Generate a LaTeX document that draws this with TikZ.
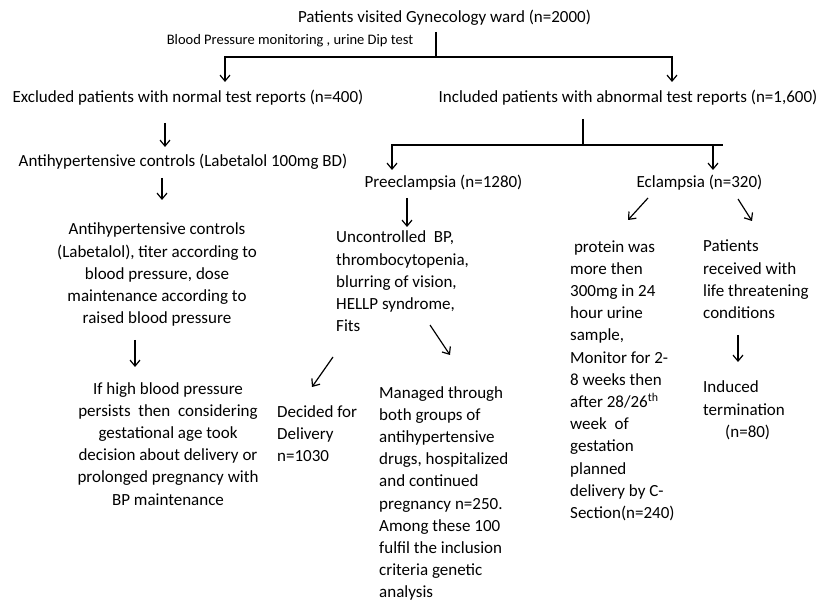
\documentclass[tikz,border=0pt]{standalone}
\usepackage{fontspec}
\setmainfont{Carlito}
\usetikzlibrary{arrows.meta,calc}

\begin{document}
\begin{tikzpicture}[x=1pt, y=-1pt,
    txt/.style={inner sep=0pt, anchor=base, font=\fontsize{17}{22.2}\selectfont},
    txtl/.style={txt, anchor=base west, align=left},
    txtc/.style={txt, align=center},
    small/.style={inner sep=0pt, anchor=base, font=\fontsize{14.5}{16}\selectfont},
    link/.style={line width=1.2pt, black},
    arr/.style={link, -{Straight Barb[length=6pt,width=10pt]}}
]
    \useasboundingbox (0,0) rectangle (822,601);

    % base of a multi-line node is its last line
    \node[txt] (title) at (444.5,23) {Patients visited Gynecology ward (n=2000)};
    \node[small] (bpdip) at (290,45) {Blood Pressure monitoring , urine Dip test};

    \node[txt] (excl) at (188,103) {Excluded patients with normal test reports (n=400)};
    \node[txt] (incl) at (628,103) {Included patients with abnormal test reports (n=1,600)};

    \node[txt] (anti1) at (183,167) {Antihypertensive controls (Labetalol 100mg BD)};
    \node[txtc] (anti2) at (157,323.8) {Antihypertensive controls\\(Labetalol), titer according to\\blood pressure, dose\\maintenance according to\\raised blood pressure};
    \node[txtc] (high) at (168,505) {If high blood pressure\\persists~~then~~considering\\gestational age took\\decision about delivery or\\prolonged pregnancy with\\BP maintenance};

    \node[txt] (pre) at (443.5,188) {Preeclampsia (n=1280)};
    \node[txt] (ecl) at (699.5,188) {Eclampsia (n=320)};

    \node[txtl] (unc) at (336,331.8) {Uncontrolled~~BP,\\thrombocytopenia,\\blurring of vision,\\HELLP syndrome,\\Fits};
    \node[txtl] (dec) at (277,461.4) {Decided for\\Delivery\\n=1030};
    \node[txtl] (man) at (379,597.8) {Managed through\\both groups of\\antihypertensive\\drugs, hospitalized\\and continued\\pregnancy n=250.\\Among these 100\\fulfil the inclusion\\criteria genetic\\analysis};

    \node[txtl] (prot) at (570,518.4) {\ protein was\\more then\\300mg in 24\\hour urine\\sample,\\Monitor for 2-\\8 weeks then\\after 28/26\textsuperscript{th}\\week~~of\\gestation\\planned\\delivery by C-\\Section(n=240)};
    \node[txtl] (pat) at (703,318.6) {Patients\\received with\\life threatening\\conditions};
    \node[txtl] (ind) at (703,437.4) {Induced\\termination\\\hspace*{22pt}(n=80)};

    \coordinate (tsplit) at (436,57);
    \coordinate (isplit) at (583,145);
    \coordinate (isplitend) at (723,145);

    \draw[link] ($(title.base)+(-8.5,9)$) -- (tsplit);
    \draw[arr] (tsplit) -| ($(excl.base)+(37,-21)$);
    \draw[arr] (tsplit) -| ($(incl.base)+(44,-21)$);

    \draw[arr] ($(excl.base)+(-23,20)$) -- ($(anti1.base)+(-18,-20)$);
    \draw[arr] ($(anti1.base)+(-21,11)$) -- ($(anti2.base)+(5,-123.8)$);
    \draw[arr] ($(anti2.base)+(-22,16.2)$) -- ($(high.base)+(-33,-138)$);

    \draw[link] ($(incl.base)+(-45,16)$) -- (isplit) -- (isplitend);
    \draw[arr] (isplit) -| ($(pre.base)+(-51.5,-18)$);
    \draw[arr] (isplit) -| ($(ecl.base)+(13.5,-18)$);

    \draw[arr] ($(pre.base)+(-36.5,10)$) -- ($(unc.base west)+(71,-104.8)$);
    \draw[arr] ($(ecl.base)+(-51.5,10)$) -- ($(prot.base west)+(58,-298.4)$);
    \draw[arr] ($(ecl.base)+(38.5,11)$) -- ($(pat.base west)+(49,-97.6)$);

    \draw[arr] ($(unc.base west)+(-3,25.2)$) -- ($(dec.base west)+(35,-74.4)$);
    \draw[arr] ($(unc.base west)+(94,-6.8)$) -- ($(man.base west)+(71,-242.8)$);
    \draw[arr] ($(pat.base west)+(35,16.4)$) -- ($(ind.base west)+(35,-75.4)$);
\end{tikzpicture}
\end{document}
